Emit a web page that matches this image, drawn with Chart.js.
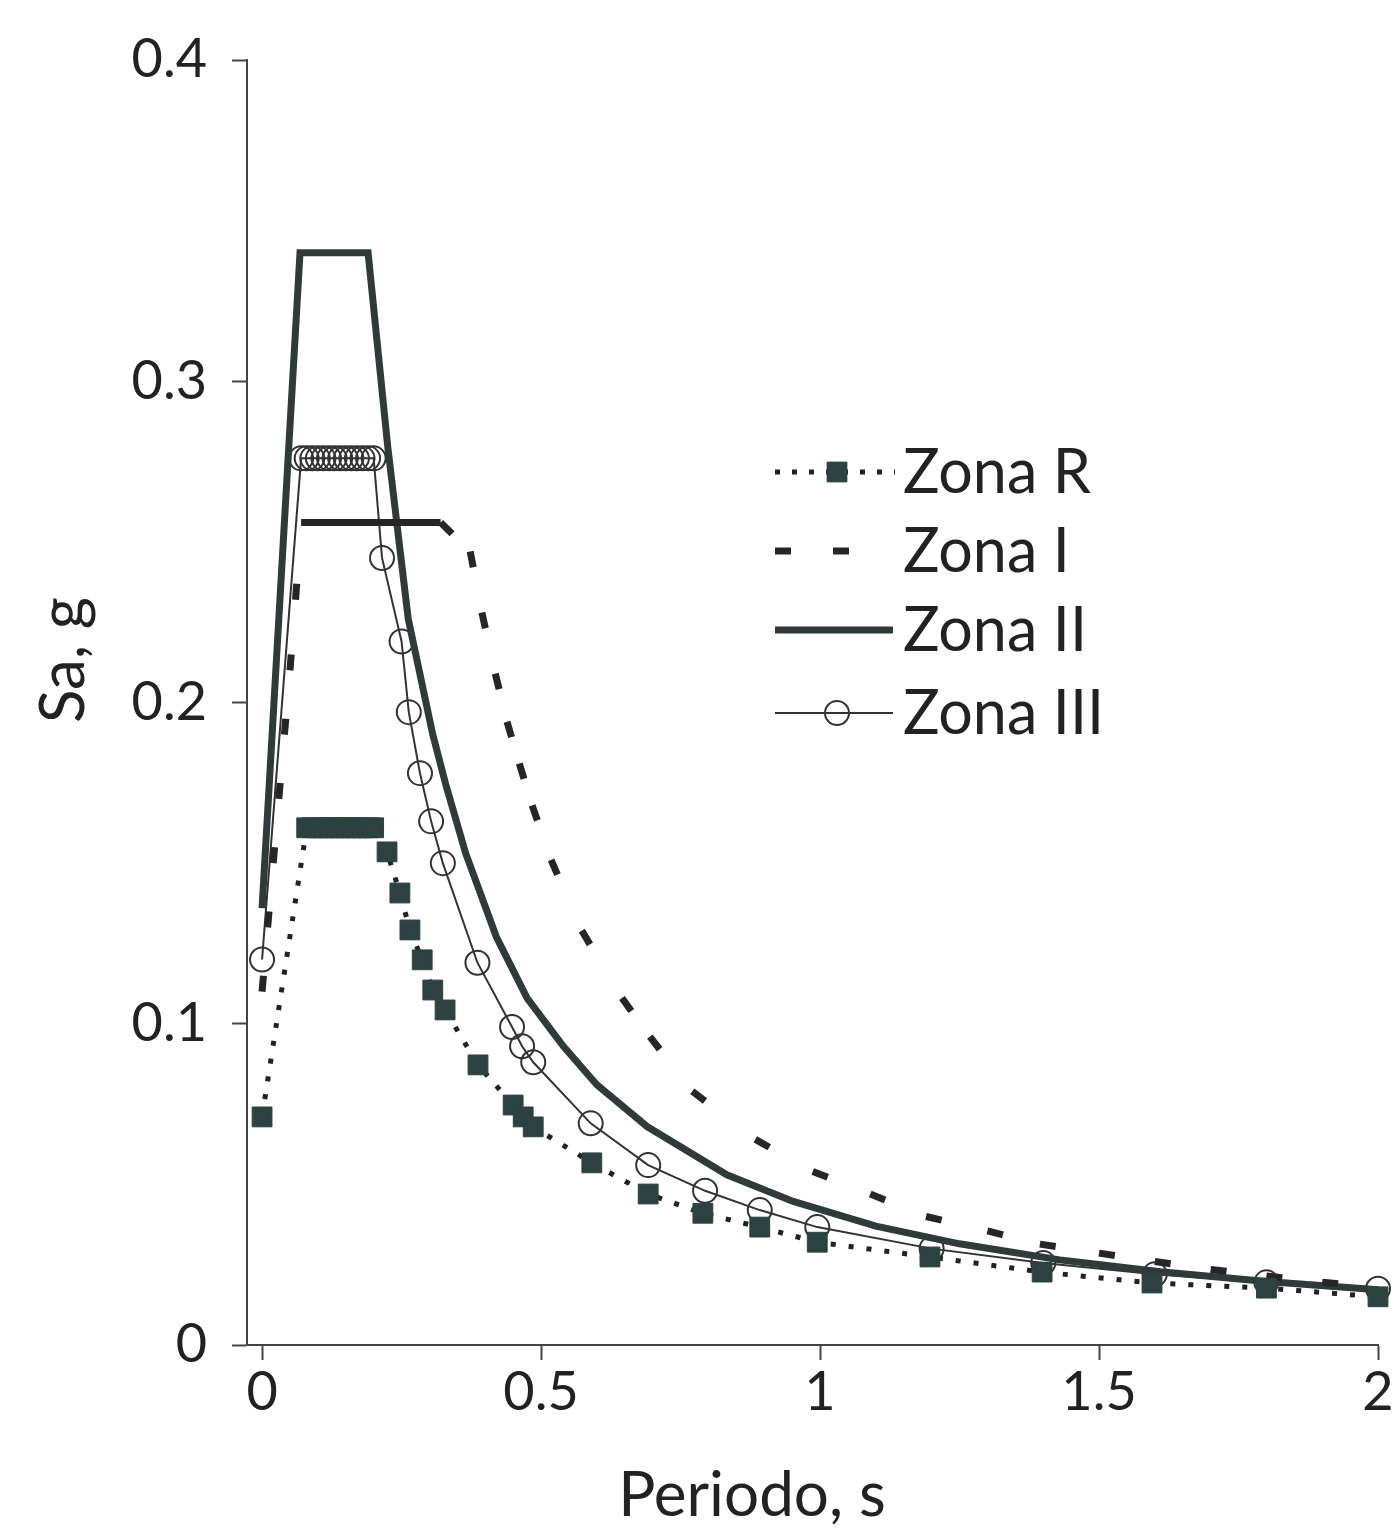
<!DOCTYPE html>
<html>
<head>
<meta charset="utf-8">
<title>Espectros de diseño - Zonas</title>
<script src="https://cdn.jsdelivr.net/npm/chart.js@4.4.1/dist/chart.umd.min.js"></script>
<style>
    html, body { margin: 0; padding: 0; background: #fff; }
    #wrap { width: 1395px; height: 1529px; }
</style>
</head>
<body>
<div id="wrap"><canvas id="spectra" width="1395" height="1529"></canvas></div>
<script>
// Valores (periodo T en s, Sa en g)
const zoneNames = ['Zona R', 'Zona I', 'Zona II', 'Zona III'];

const zonaR_T = [0, 0.08, 0.09, 0.10, 0.11, 0.12, 0.13, 0.14, 0.15, 0.16, 0.17, 0.18, 0.19, 0.20,
    0.224, 0.247, 0.265, 0.287, 0.306, 0.328, 0.387, 0.45, 0.468, 0.486, 0.591, 0.692, 0.79, 0.892,
    0.995, 1.197, 1.398, 1.595, 1.80, 2.0];
const zonaR_Sa = [0.071, 0.161, 0.161, 0.161, 0.161, 0.161, 0.161, 0.161, 0.161, 0.161, 0.161, 0.161, 0.161, 0.161,
    0.1535, 0.1407, 0.1292, 0.1199, 0.1105, 0.1043, 0.0872, 0.0747, 0.071, 0.0679, 0.0567, 0.047, 0.041, 0.0367,
    0.032, 0.0274, 0.0227, 0.0193, 0.0177, 0.015];

const zonaI_T = [0, 0.01, 0.02, 0.03, 0.04, 0.05, 0.06, 0.07, 0.32,
    0.373, 0.394, 0.418, 0.439, 0.461, 0.484, 0.518, 0.573, 0.645, 0.695, 0.771, 0.884, 0.987,
    1.09, 1.19, 1.30, 1.394, 1.50, 1.6, 1.7, 1.8, 1.9, 2.0];
const zonaI_Sa = [0.11, 0.13, 0.15, 0.17, 0.19, 0.21, 0.232, 0.256, 0.256,
    0.247, 0.228, 0.209, 0.194, 0.181, 0.168, 0.151, 0.129, 0.108, 0.096, 0.079, 0.064, 0.054,
    0.047, 0.040, 0.0355, 0.0314, 0.0286, 0.026, 0.0235, 0.0215, 0.0195, 0.018];

const zonaII_T = [0, 0.068, 0.19, 0.225, 0.262, 0.306, 0.33, 0.365, 0.42, 0.475, 0.54, 0.60, 0.69,
    0.833, 0.952, 1.1, 1.25, 1.43, 1.61, 1.8, 2.0];
const zonaII_Sa = [0.136, 0.34, 0.34, 0.28, 0.226, 0.19, 0.174, 0.153, 0.127, 0.108, 0.093, 0.081, 0.068,
    0.053, 0.0447, 0.037, 0.0315, 0.0265, 0.0228, 0.0198, 0.0172];

const zonaIII_T = [0, 0.07, 0.08, 0.09, 0.10, 0.11, 0.12, 0.13, 0.14, 0.15, 0.16, 0.17, 0.18, 0.19, 0.20,
    0.215, 0.25, 0.263, 0.283, 0.303, 0.324, 0.386, 0.448, 0.466, 0.486, 0.589, 0.692, 0.794, 0.892,
    0.995, 1.2, 1.4, 1.6, 1.8, 2.0];
const zonaIII_Sa = [0.12, 0.276, 0.276, 0.276, 0.276, 0.276, 0.276, 0.276, 0.276, 0.276, 0.276, 0.276, 0.276, 0.276, 0.276,
    0.245, 0.219, 0.197, 0.178, 0.163, 0.150, 0.119, 0.099, 0.093, 0.088, 0.069, 0.056, 0.048, 0.042,
    0.0367, 0.030, 0.0255, 0.022, 0.0195, 0.0175];

const xTicks = [0, 0.5, 1, 1.5, 2];
const yTicks = [0, 0.1, 0.2, 0.3, 0.4];
const xTitle = 'Periodo, s';
const yTitle = 'Sa, g';

const FONT = "Lato, 'Open Sans', sans-serif";
const INK = '#222';
const MARK = '#2c4240';

function toPoints(ts, vals) {
    return ts.map((t, i) => ({ x: t, y: vals[i] }));
}

// Excel-style dashes: the pattern restarts on every segment, flat runs look solid
const restartDash = {
    borderDash: ctx => (ctx.p0.parsed.y === ctx.p1.parsed.y ? [] : [16, 400]),
    borderDashOffset: ctx => (ctx.p0DataIndex % 2 ? 0.01 : 0)
};

const datasets = [
    {
        label: zoneNames[0],
        data: toPoints(zonaR_T, zonaR_Sa),
        borderColor: INK,
        borderWidth: 5,
        borderDash: [5, 13],
        pointStyle: 'rect',
        pointRadius: 14,
        pointBackgroundColor: MARK,
        pointBorderColor: MARK,
        pointBorderWidth: 1,
        legendDash: [5, 12],
        legendEnd: 895
    },
    {
        label: zoneNames[1],
        data: toPoints(zonaI_T, zonaI_Sa),
        borderColor: '#262626',
        borderWidth: 7,
        segment: restartDash,
        pointRadius: 0,
        legendDash: [16, 42],
        legendEnd: 852
    },
    {
        label: zoneNames[2],
        data: toPoints(zonaII_T, zonaII_Sa),
        borderColor: '#2f3b3a',
        borderWidth: 7,
        pointRadius: 0,
        legendDash: [],
        legendEnd: 893
    },
    {
        label: zoneNames[3],
        data: toPoints(zonaIII_T, zonaIII_Sa),
        borderColor: '#333',
        borderWidth: 2,
        pointStyle: 'circle',
        pointRadius: 12,
        pointBackgroundColor: 'rgba(0,0,0,0)',
        pointBorderColor: '#333',
        pointBorderWidth: 2,
        legendDash: [],
        legendEnd: 893
    }
];

// legend and axis titles are drawn by hand to sit where the original puts them
const zonaLegend = {
    id: 'zonaLegend',
    afterDraw(chart) {
        const ctx = chart.ctx;
        const rowY = [472, 551, 630, 713];
        const x0 = 775;
        ctx.save();
        chart.data.datasets.forEach((ds, i) => {
            const y = rowY[i];
            ctx.strokeStyle = ds.borderColor;
            ctx.lineWidth = ds.borderWidth;
            ctx.setLineDash(ds.legendDash);
            ctx.beginPath();
            ctx.moveTo(x0, y);
            ctx.lineTo(ds.legendEnd, y);
            ctx.stroke();
            ctx.setLineDash([]);
            if (ds.pointRadius > 0) {
                ctx.fillStyle = ds.pointBackgroundColor;
                ctx.strokeStyle = ds.pointBorderColor;
                ctx.lineWidth = ds.pointBorderWidth;
                Chart.helpers.drawPoint(ctx, {
                    pointStyle: ds.pointStyle,
                    radius: ds.pointRadius,
                    borderWidth: ds.pointBorderWidth,
                    rotation: 0
                }, 837, y);
            }
            ctx.fillStyle = INK;
            ctx.font = `61px ${FONT}`;
            ctx.textAlign = 'left';
            ctx.textBaseline = 'middle';
            ctx.fillText(ds.label, 903, y + 1);
        });

        ctx.font = `62px ${FONT}`;
        ctx.textAlign = 'center';
        ctx.textBaseline = 'middle';
        ctx.fillText(xTitle, 752, 1496);
        ctx.translate(64, 660);
        ctx.rotate(-Math.PI / 2);
        ctx.fillText(yTitle, 0, 0);
        ctx.restore();
    }
};

const chart = new Chart(document.getElementById('spectra'), {
    type: 'line',
    data: { datasets },
    plugins: [zonaLegend],
    options: {
        responsive: false,
        animation: false,
        layout: { padding: { top: 60, right: 17, bottom: 0, left: 0 } },
        datasets: { line: { clip: false, tension: 0, fill: false } },
        plugins: {
            legend: { display: false },
            tooltip: { enabled: false }
        },
        scales: {
            x: {
                type: 'linear',
                min: -0.027,
                max: 2,
                afterBuildTicks: scale => { scale.ticks = xTicks.map(v => ({ value: v })); },
                afterFit: scale => { scale.height = 184; },
                ticks: {
                    color: INK,
                    font: { family: FONT, size: 54 },
                    padding: 0,
                    maxRotation: 0,
                    callback: v => String(v)
                },
                grid: { drawOnChartArea: false, drawTicks: true, tickLength: 15, color: '#444', tickWidth: 2 },
                border: { display: true, color: '#444', width: 2 },
                title: { display: false }
            },
            y: {
                type: 'linear',
                min: 0,
                max: 0.4,
                afterBuildTicks: scale => { scale.ticks = yTicks.map(v => ({ value: v })); },
                afterFit: scale => { scale.width = 247; },
                ticks: {
                    color: INK,
                    font: { family: FONT, size: 54 },
                    padding: 25,
                    callback: v => (v === 0 ? '0' : v.toFixed(1))
                },
                grid: { drawOnChartArea: false, drawTicks: true, tickLength: 15, color: '#444', tickWidth: 2 },
                border: { display: true, color: '#444', width: 2 },
                title: { display: false }
            }
        }
    }
});
</script>
</body>
</html>
